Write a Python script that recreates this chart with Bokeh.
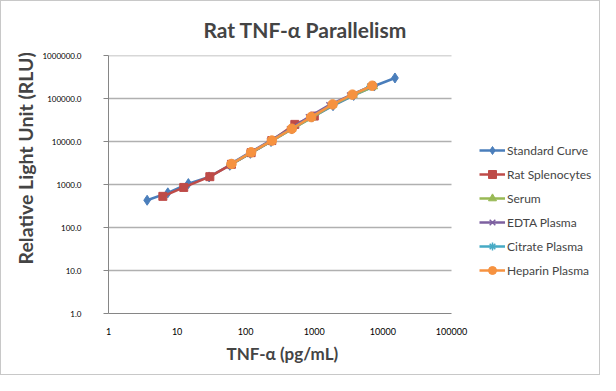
import math
from bokeh.plotting import figure
from bokeh.models import FixedTicker, PrintfTickFormatter, Title, Legend, LegendItem
from bokeh.embed import file_html
from bokeh.resources import INLINE

# ---- data ----
std_x = [3.66, 7.32, 14.6, 29.3, 58.6, 117, 234, 469, 938, 1875, 3750, 7500, 15000]
std_y = [430, 640, 1050, 1500, 2800, 5300, 10000, 19500, 37000, 68000, 118000, 195000, 300000]

rat_x = [6.2, 12.5, 30, 62, 120, 240, 520, 1000]
rat_y = [530, 855, 1520, 2950, 5500, 10500, 25000, 39000]

serum_x = [62, 120, 240, 470, 920, 1850, 3700, 7300]
serum_y = [2950, 5500, 10300, 19300, 36000, 71000, 120000, 190000]

edta_x = [59, 114, 225, 440, 830, 1650, 3300, 6600]
edta_y = [2950, 5500, 10300, 19500, 37000, 70000, 118000, 192000]

citrate_x = [60, 118, 235, 460, 900, 1800, 3500, 6500]
citrate_y = [2950, 5500, 10300, 19500, 36500, 71000, 119000, 190000]

hep_x = [62, 120, 240, 470, 900, 1850, 3600, 7000]
hep_y = [3000, 5600, 10500, 19800, 37000, 73000, 123000, 198000]

x_ticks = [1, 10, 100, 1000, 10000, 100000]
y_ticks = [1, 10, 100, 1000, 10000, 100000, 1000000]

series = [
    ("Standard Curve", std_x, std_y, "#4A7EBB", "diamond", 10),
    ("Rat Splenocytes", rat_x, rat_y, "#BE4B48", "square", 8),
    ("Serum", serum_x, serum_y, "#98B954", "triangle", 8),
    ("EDTA Plasma", edta_x, edta_y, "#7D60A0", "x", 8),
    ("Citrate Plasma", citrate_x, citrate_y, "#46AAC5", "asterisk", 8),
    ("Heparin Plasma", hep_x, hep_y, "#F69240", "circle", 9.5),
]

FONT = "Lato"

# layout (pixels): plot-area left edge, width of the 1..100000 axis, canvas size
W, H = 600, 375
LEFT, AXIS_W = 107, 343
frame_w = W - LEFT
decades = math.log10(x_ticks[-1] / x_ticks[0])
x_end = x_ticks[0] * 10 ** (decades * frame_w / AXIS_W)

p = figure(width=W, height=H, x_axis_type="log", y_axis_type="log",
           x_range=(x_ticks[0], x_end), y_range=(y_ticks[0], y_ticks[-1]),
           output_backend="svg", toolbar_location=None,
           min_border_left=LEFT, min_border_right=0,
           min_border_top=54, min_border_bottom=63)
p.styles = {"border": "1px solid #c8c8c8", "box-sizing": "border-box"}

p.title.text = "Rat TNF-\u03b1 Parallelism"
p.title.text_font = FONT
p.title.text_font_size = "21px"
p.title.text_font_style = "bold"
p.title.align = "left"
p.title.offset = 95
p.title.vertical_align = "middle"
p.title.standoff = 26

p.outline_line_color = None
p.xgrid.visible = False
p.ygrid.visible = False

# horizontal gridlines limited to the 1..100000 axis
p.segment(x0=[x_ticks[0]] * (len(y_ticks) - 1), x1=[x_ticks[-1]] * (len(y_ticks) - 1),
          y0=y_ticks[1:], y1=y_ticks[1:], line_color="#b0b0b0", line_width=1.3)

p.xaxis.ticker = FixedTicker(ticks=x_ticks, minor_ticks=[])
p.yaxis.ticker = FixedTicker(ticks=y_ticks, minor_ticks=[])
p.xaxis.formatter = PrintfTickFormatter(format="%d")
p.yaxis.formatter = PrintfTickFormatter(format="%.1f")
p.xaxis.bounds = (x_ticks[0], x_ticks[-1])

for ax in (p.xaxis, p.yaxis):
    ax.axis_line_color = "#868686"
    ax.axis_line_width = 1
    ax.major_label_text_font = FONT
    ax.major_label_text_color = "#000000"
    ax.minor_tick_line_color = None

p.yaxis.major_label_text_font_size = "8px"
p.xaxis.major_label_text_font_size = "9px"
p.yaxis.major_tick_line_color = "#868686"
p.yaxis.major_tick_out = 5
p.yaxis.major_tick_in = 0
p.yaxis.major_label_standoff = 22
p.xaxis.major_tick_line_color = None
p.xaxis.major_tick_out = 0
p.xaxis.major_tick_in = 0
p.xaxis.major_label_standoff = 14

# x-axis title, centred under the 1..100000 axis
xlab = Title(text="TNF-\u03b1 (pg/mL)", align="left", offset=118,
             text_font=FONT, text_font_size="17px", text_font_style="bold",
             standoff=6)
p.add_layout(xlab, "below")

ylab = Title(text="Relative Light Unit (RLU)", align="left", offset=49,
             text_font=FONT, text_font_size="19.5px", text_font_style="bold",
             standoff=6)
p.add_layout(ylab, "left")

items = []
for name, xs, ys, col, mk, sz in series:
    r1 = p.line(xs, ys, line_color=col, line_width=2.5)
    r2 = p.scatter(xs, ys, marker=mk, size=sz, fill_color=col, line_color=col,
                   line_width=1.5 if mk in ("x", "asterisk") else 1)
    items.append(LegendItem(label=name, renderers=[r1, r2]))

lg = Legend(items=items, location=(371, 33), margin=0, padding=0, spacing=4,
            glyph_width=26, glyph_height=20, label_height=20, label_standoff=2,
            label_text_font=FONT, label_text_font_size="12px",
            border_line_color=None, background_fill_alpha=0)
p.add_layout(lg, "center")

open("out.html", "w").write(file_html(p, INLINE))
